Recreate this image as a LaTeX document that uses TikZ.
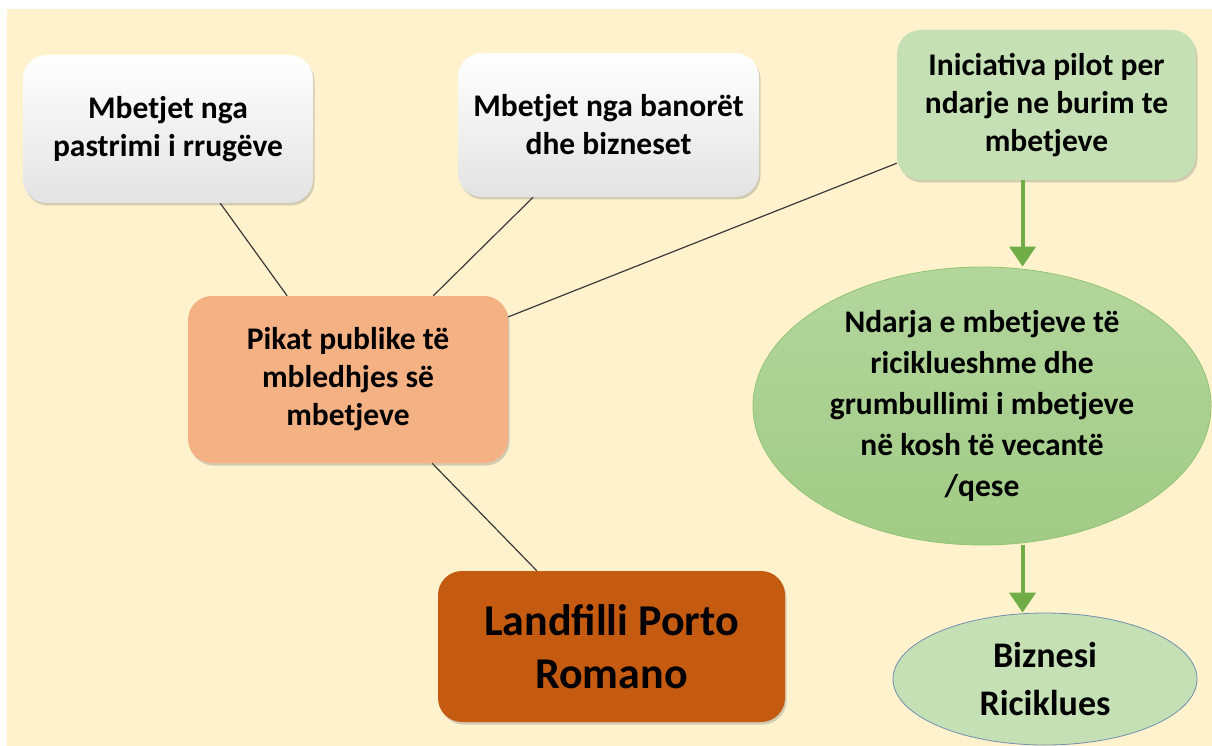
\documentclass[tikz,border=0pt]{standalone}
\usepackage{fontspec}
\setmainfont{Carlito}
\usetikzlibrary{shapes.geometric,shadows,arrows.meta,calc}
\definecolor{bgcream}{HTML}{FFF2CC}
\definecolor{boxgreen}{HTML}{C5E0B4}
\definecolor{boxpeach}{HTML}{F4B183}
\definecolor{boxrust}{HTML}{C55A11}
\definecolor{ellgreenA}{HTML}{B3D69D}
\definecolor{ellgreenB}{HTML}{A1CB85}
\definecolor{ellborder}{HTML}{93C373}
\definecolor{arrgreen}{HTML}{70AD47}
\definecolor{bzborder}{HTML}{7090B0}
\definecolor{linegray}{HTML}{3A3A3A}
\tikzset{
  txt/.style={font=\fontsize{31.5}{38}\selectfont\bfseries, align=center, text=black},
  rbox/.style={txt, rectangle, rounded corners=24pt, inner sep=0pt,
    drop shadow={shadow xshift=1.5pt, shadow yshift=-2.5pt, opacity=0.35}},
  whitebox/.style={rbox, top color=white, middle color=white, bottom color=black!11},
  conn/.style={draw=linegray, line width=1.2pt},
  garr/.style={draw=arrgreen, line width=4pt, -{Triangle[width=26pt,length=20pt]}},
}
\begin{document}
\begin{tikzpicture}[x=1pt,y=-1pt]
\useasboundingbox (0,0) rectangle (1212,746);
\fill[white] (0,0) rectangle (1212,746);
\fill[bgcream] (7,9) rectangle (1212,746);

\node[whitebox, minimum width=290pt, minimum height=148pt] (b1) at (168,129)
  {Mbetjet nga\\pastrimi i rrugëve};
\node[whitebox, minimum width=301pt, minimum height=144pt] (b2) at (608.5,125)
  {Mbetjet nga banorët\\dhe bizneset};
\node[rbox, fill=boxgreen, minimum width=299pt, minimum height=150pt] (g) at (1046.5,105)
  {Iniciativa pilot per\\ndarje ne burim te\\mbetjeve};
\node[rbox, fill=boxpeach, minimum width=320pt, minimum height=167pt] (pk) at (348,379.5)
  {Pikat publike të\\mbledhjes së\\mbetjeve};
\node[rbox, fill=boxrust, minimum width=347pt, minimum height=151pt,
  font=\fontsize{44}{53}\selectfont\bfseries] (lf) at (611.5,646.5)
  {Landfilli Porto\\Romano};
\node[txt, ellipse, inner sep=0pt, top color=ellgreenA, bottom color=ellgreenB,
  draw=ellborder, line width=0.8pt, minimum width=458pt, minimum height=278pt,
  font=\fontsize{31.5}{41}\selectfont\bfseries] (el) at (982,406)
  {Ndarja e mbetjeve të\\riciklueshme dhe\\grumbullimi i mbetjeve\\në kosh të vecantë\\/qese};
\node[txt, ellipse, inner sep=0pt, fill=boxgreen, draw=bzborder, line width=0.8pt,
  minimum width=304pt, minimum height=132pt,
  font=\fontsize{36}{48}\selectfont\bfseries] (bz) at (1045,679)
  {Biznesi\\Riciklues};

\draw[conn] ($(b1.south west)!0.68!(b1.south east)$) -- ($(pk.north west)!0.31!(pk.north east)$);
\draw[conn] ($(b2.south west)!0.25!(b2.south east)$) -- ($(pk.north west)!0.766!(pk.north east)$);
\draw[conn] ($(g.north west)!0.887!(g.south west)$) -- ($(pk.north east)!0.126!(pk.south east)$);
\draw[conn] ($(pk.south west)!0.7625!(pk.south east)$) -- ($(lf.north west)!0.285!(lf.north east)$);

\coordinate (a1) at ($(g.south west)!0.42!(g.south east)$);
\draw[garr] (a1) -- (a1 |- el.north);
\draw[garr] (el.south -| a1) -- (bz.north -| a1);
\end{tikzpicture}
\end{document}
